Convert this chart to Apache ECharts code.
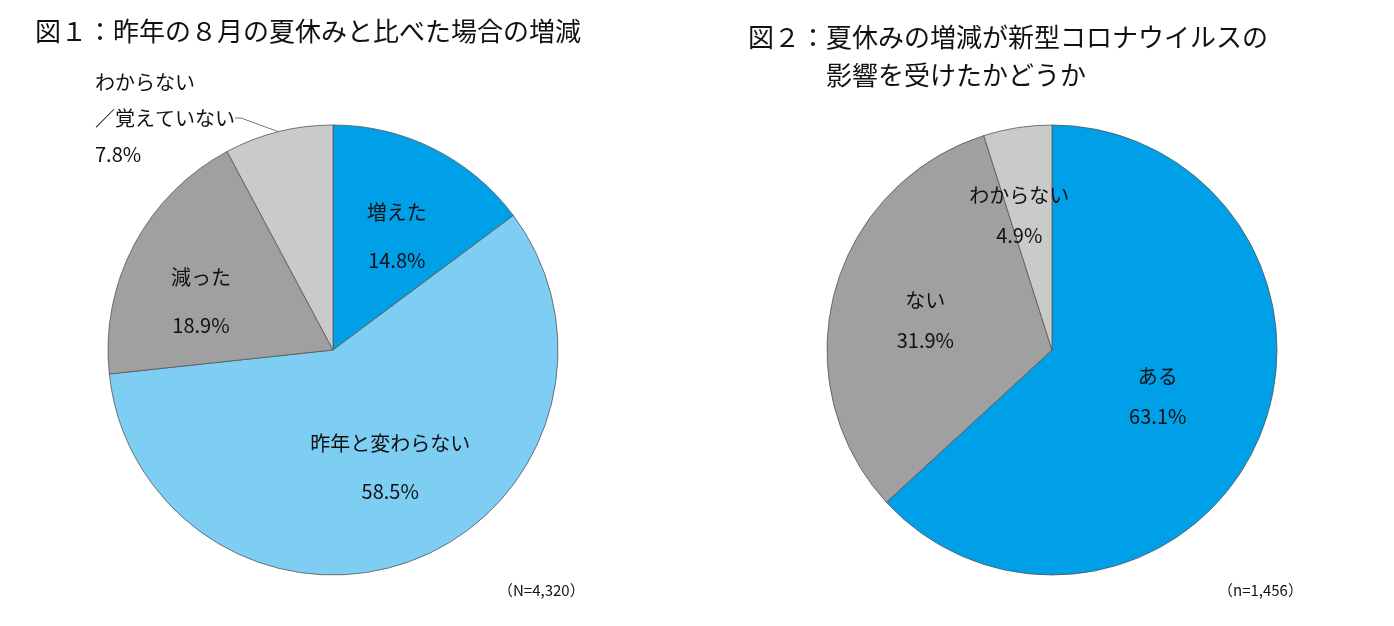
<!DOCTYPE html>
<html><head><meta charset="utf-8">
<script src="https://cdn.jsdelivr.net/npm/echarts@6/dist/echarts.min.js"></script>
<style>html,body{margin:0;background:#fff}#c{width:1394px;height:626px}</style>
</head><body><div id="c"></div>
<script>
const title1 = '図１：昨年の８月の夏休みと比べた場合の増減';
const title2 = '図２：夏休みの増減が新型コロナウイルスの\n　　　影響を受けたかどうか';
const cats1 = ['増えた', '昨年と変わらない', '減った', 'わからない\n／覚えていない'];
const vals1 = [14.8, 58.5, 18.9, 7.8];
const cats2 = ['ある', 'ない', 'わからない'];
const vals2 = [63.1, 31.9, 4.9];
const note1 = '（N=4,320）';
const note2 = '（n=1,456）';
const F = '"Noto Sans CJK JP", sans-serif';
const chart = echarts.init(document.getElementById('c'));
const colors1 = ['#00A0E9', '#7ECEF4', '#A0A0A0', '#C9CACA'];
const colors2 = ['#00A0E9', '#A0A0A0', '#C9CACA'];
const lab = {show:true, position:'inside', color:'#111', fontSize:20, fontFamily:F, formatter: p => p.name + '\n' + p.value.toFixed(1) + '%'};
const offs1 = [[12,-10],[15,10],[-30,5],[0,0]];
const offs2 = [[0,0],[-15,0],[-15,-20]];
const data1 = cats1.map((n,i) => {
  const d = {name:n, value:vals1[i], itemStyle:{color:colors1[i]}, label:{offset:offs1[i], lineHeight:48}};
  if (i === 3) {
    d.label = {position:'outside', align:'left', lineHeight:36, offset:[0,0], color:'#111', fontSize:20,
      formatter: p => p.name + '\n' + p.value.toFixed(1) + '%'};
    d.labelLine = {show:true, length:6, length2:6, lineStyle:{color:'#555', width:0.8}};
  }
  return d;
});
const data2 = cats2.map((n,i) => ({name:n, value:vals2[i], itemStyle:{color:colors2[i]}, label:{offset:offs2[i], lineHeight:40}}));
chart.setOption({
  animation:false,
  graphic:[
    {type:'text', left:35, top:18, style:{text:title1, font:'26px '+F, fill:'#111'}},
    {type:'text', left:748, top:18, style:{text:title2, font:'26px '+F, fill:'#111', lineHeight:38}},
    {type:'text', left:498, top:583, style:{text:note1, font:'15px '+F, fill:'#111'}},
    {type:'text', left:1218, top:583, style:{text:note2, font:'15px '+F, fill:'#111'}}
  ],
  series:[
    {type:'pie', center:[333,350], radius:225, startAngle:90, clockwise:true, data:data1, label:lab,
      itemStyle:{borderColor:'#555', borderWidth:0.8}, labelLayout: p => p.dataIndex===3 ? {x:95, y:118, align:'left', verticalAlign:'middle'} : {}},
    {type:'pie', center:[1052,350], radius:225, startAngle:90, clockwise:true, data:data2, label:lab,
      itemStyle:{borderColor:'#555', borderWidth:0.8}}
  ]
});
</script></body></html>
